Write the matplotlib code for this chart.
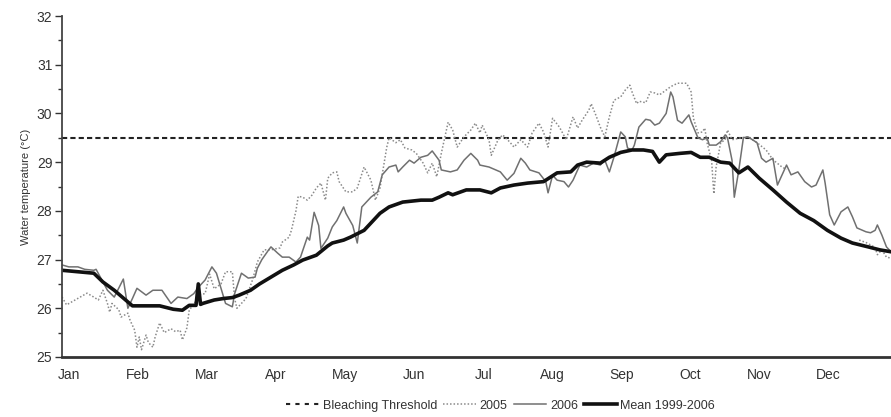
import numpy as np
import matplotlib.pyplot as plt

plt.rcParams['font.family'] = ['Liberation Sans', 'DejaVu Sans']

months = ['Jan', 'Feb', 'Mar', 'Apr', 'May', 'Jun',
          'Jul', 'Aug', 'Sep', 'Oct', 'Nov', 'Dec']
threshold = 29.5

# day of year / water temperature (deg C)
mean_days = [0, 7, 14, 18, 23, 28, 31, 37, 43, 49, 53, 56, 59, 60, 61, 62,
             67, 71, 75, 78, 83, 87, 92, 97, 102, 106, 112, 117, 119, 124,
             127, 133, 140, 144, 150, 158, 163, 166, 170, 172, 178, 184, 189,
             193, 199, 205, 212, 218, 224, 227, 231, 237, 241, 246, 251, 256,
             260, 263, 266, 272, 277, 281, 285, 290, 294, 298, 302, 307, 313,
             319, 325, 331, 337, 343, 348, 355, 360, 365]
mean_temp = [26.78, 26.75, 26.72, 26.54, 26.37, 26.17, 26.05, 26.05, 26.05,
             25.98, 25.96, 26.06, 26.06, 26.5, 26.08, 26.1, 26.17, 26.2,
             26.22, 26.27, 26.37, 26.5, 26.64, 26.78, 26.89, 26.99, 27.09,
             27.28, 27.34, 27.4, 27.46, 27.6, 27.95, 28.08, 28.18, 28.22,
             28.22, 28.28, 28.37, 28.33, 28.43, 28.43, 28.37, 28.47, 28.53,
             28.57, 28.6, 28.78, 28.8, 28.94, 29.0, 28.98, 29.1, 29.2, 29.25,
             29.25, 29.22, 29.0, 29.15, 29.18, 29.2, 29.1, 29.1, 29.0, 28.98,
             28.78, 28.9, 28.67, 28.43, 28.18, 27.95, 27.8, 27.6, 27.44,
             27.34, 27.26, 27.2, 27.16]

days_2006 = [0, 3, 7, 10, 14, 15, 18, 20, 23, 27, 29, 31, 33, 37, 40, 44, 48,
             51, 55, 58, 60, 63, 66, 68, 70, 72, 75, 76, 79, 82, 85, 86, 88,
             91, 92, 95, 97, 100, 103, 105, 108, 109, 111, 113, 114, 117, 119,
             121, 124, 125, 128, 130, 132, 136, 139, 141, 144, 147, 148, 150,
             153, 155, 158, 161, 163, 166, 167, 171, 174, 177, 180, 183, 184,
             188, 193, 196, 199, 202, 204, 206, 210, 213, 214, 216, 218, 221,
             223, 225, 228, 231, 234, 237, 239, 241, 243, 246, 248, 249, 251,
             252, 254, 257, 259, 261, 263, 266, 268, 269, 271, 273, 276, 277,
             280, 282, 284, 285, 288, 290, 292, 293, 295, 296, 298, 300, 302,
             304, 306, 308, 310, 313, 315, 319, 321, 324, 327, 330, 332, 335,
             336, 338, 340, 343, 346, 348, 350, 354, 356, 358, 359, 361, 363,
             365]
temp_2006 = [26.89, 26.85, 26.85, 26.8, 26.78, 26.8, 26.54, 26.37, 26.23,
             26.6, 26.0, 26.2, 26.41, 26.27, 26.37, 26.37, 26.1, 26.23, 26.2,
             26.3, 26.43, 26.58, 26.85, 26.72, 26.41, 26.1, 26.03, 26.3,
             26.72, 26.62, 26.64, 26.82, 27.0, 27.2, 27.26, 27.13, 27.05,
             27.05, 26.95, 27.05, 27.46, 27.4, 27.97, 27.7, 27.23, 27.44,
             27.67, 27.8, 28.08, 27.95, 27.7, 27.34, 28.08, 28.28, 28.39,
             28.74, 28.9, 28.94, 28.8, 28.9, 29.04, 28.98, 29.1, 29.14, 29.23,
             29.04, 28.84, 28.8, 28.84, 29.04, 29.18, 29.04, 28.94, 28.9,
             28.8, 28.63, 28.77, 29.08, 28.98, 28.84, 28.78, 28.6, 28.37,
             28.73, 28.63, 28.6, 28.49, 28.63, 28.94, 28.9, 28.98, 28.94,
             29.04, 28.8, 29.1, 29.62, 29.52, 29.29, 29.25, 29.35, 29.72,
             29.88, 29.86, 29.76, 29.8, 30.0, 30.44, 30.34, 29.86, 29.8,
             29.97, 29.83, 29.5, 29.46, 29.5, 29.35, 29.35, 29.42, 29.56,
             29.5, 29.04, 28.28, 28.84, 29.5, 29.52, 29.46, 29.4, 29.08, 29.0,
             29.08, 28.53, 28.94, 28.74, 28.8, 28.6, 28.49, 28.53, 28.84,
             28.57, 27.92, 27.71, 27.98, 28.08, 27.88, 27.65, 27.57, 27.55,
             27.6, 27.71, 27.5, 27.26, 27.16]

# no 2005 readings between mid-November and mid-December
days_2005 = [0, 2, 5, 8, 11, 14, 16, 18, 20, 21, 22, 25, 26, 29, 30, 32, 33,
             34, 35, 37, 38, 40, 41, 43, 45, 48, 50, 52, 53, 55, 56, 59, 60,
             63, 65, 67, 70, 72, 75, 76, 77, 81, 84, 86, 89, 92, 96, 97, 100,
             101, 103, 104, 106, 108, 110, 112, 114, 116, 117, 119, 121, 122,
             125, 128, 130, 133, 136, 138, 140, 143, 144, 147, 149, 151, 154,
             156, 159, 161, 163, 165, 167, 170, 172, 174, 177, 180, 182, 184,
             185, 188, 189, 192, 194, 197, 199, 202, 205, 207, 210, 212, 214,
             216, 219, 222, 225, 227, 229, 232, 233, 235, 237, 239, 241, 243,
             246, 248, 250, 251, 253, 254, 257, 259, 261, 263, 266, 268, 271,
             273, 275, 277, 278, 280, 282, 283, 284, 286, 287, 288, 290, 292,
             293, 295, 299, 302, 306, 310, 313, 317, 319, 335, 351, 354, 356,
             358, 359, 361, 363, 365]
temp_2005 = [26.23, 26.07, 26.15, 26.23, 26.31, 26.23, 26.17, 26.37, 26.1,
             25.92, 26.1, 25.97, 25.82, 25.9, 25.75, 25.55, 25.2, 25.41, 25.15,
             25.45, 25.3, 25.2, 25.41, 25.7, 25.5, 25.58, 25.52, 25.55, 25.35,
             25.6, 25.96, 26.15, 26.28, 26.3, 26.7, 26.4, 26.5, 26.75, 26.75,
             26.2, 26.0, 26.2, 26.6, 26.95, 27.2, 27.2, 27.24, 27.36, 27.46,
             27.6, 28.0, 28.3, 28.28, 28.22, 28.32, 28.47, 28.57, 28.22, 28.67,
             28.78, 28.8, 28.6, 28.39, 28.39, 28.47, 28.9, 28.63, 28.22, 28.47,
             29.31, 29.5, 29.4, 29.46, 29.29, 29.25, 29.18, 28.98, 28.78,
             28.98, 28.7, 29.18, 29.82, 29.66, 29.31, 29.52, 29.66, 29.8, 29.6,
             29.76, 29.46, 29.14, 29.46, 29.56, 29.42, 29.31, 29.46, 29.31,
             29.6, 29.8, 29.62, 29.31, 29.9, 29.72, 29.46, 29.93, 29.7, 29.86,
             30.07, 30.2, 29.97, 29.72, 29.52, 29.93, 30.27, 30.34, 30.48,
             30.58, 30.44, 30.2, 30.25, 30.22, 30.44, 30.42, 30.38, 30.48,
             30.55, 30.62, 30.62, 30.62, 30.44, 29.9, 29.6, 29.62, 29.7, 29.4,
             29.04, 28.35, 28.9, 29.4, 29.46, 29.66, 29.46, 29.5, 29.52, 29.4,
             29.25, 29.05, 28.9, 28.85, np.nan, 27.4, 27.35, 27.3, 27.25, 27.1,
             27.2, 27.05, 27.03]

fig = plt.figure(figsize=(8.91, 4.17), dpi=100)
ax = fig.add_axes([0.0696, 0.1439, 0.9304, 0.8177])

ax.axhline(threshold, color='#222222', lw=1.5, ls=(0, (2.5, 1.5)),
           label='Bleaching Threshold')
ax.plot(days_2005, temp_2005, color='#8a8a8a', lw=1.1, ls=(0, (1, 1.3)),
        label='2005')
ax.plot(days_2006, temp_2006, color='#707070', lw=1.1, label='2006')
ax.plot(mean_days, mean_temp, color='#111111', lw=2.6, label='Mean 1999-2006')

ax.set_xlim(0, 365)
ax.set_ylim(25, 32)
ax.set_xticks([3 + i * 365 / 12 for i in range(12)])
ax.set_xticklabels(months)
ax.set_yticks(range(25, 33))
ax.set_yticks(np.arange(25.5, 32, 1), minor=True)
ax.tick_params(axis='x', length=0, pad=8, labelsize=10, colors='#333333')
ax.tick_params(axis='y', which='major', length=5, width=1, direction='out',
               labelsize=10, colors='#333333', pad=2)
ax.tick_params(axis='y', which='minor', length=3, width=1, colors='#333333')
ax.set_ylabel('Water temperature (°C)', fontsize=8, color='#333333', labelpad=4)

for side in ['top', 'right']:
    ax.spines[side].set_visible(False)
ax.spines['left'].set_color('#444444')
ax.spines['left'].set_linewidth(1.3)
ax.spines['bottom'].set_color('#333333')
ax.spines['bottom'].set_linewidth(2)

# legend handles: threshold drawn with wider gaps so the dashes read clearly
handles, labels = ax.get_legend_handles_labels()
leg = fig.legend(handles, labels, loc='center', bbox_to_anchor=(0.562, 0.027),
                 ncol=4, frameon=False, fontsize=9, handlelength=2.6,
                 handletextpad=0.3, columnspacing=0.5, labelcolor='#333333')
leg.legend_handles[0].set_linestyle((0, (2, 2.5)))

fig.savefig('out.png', dpi=100)
